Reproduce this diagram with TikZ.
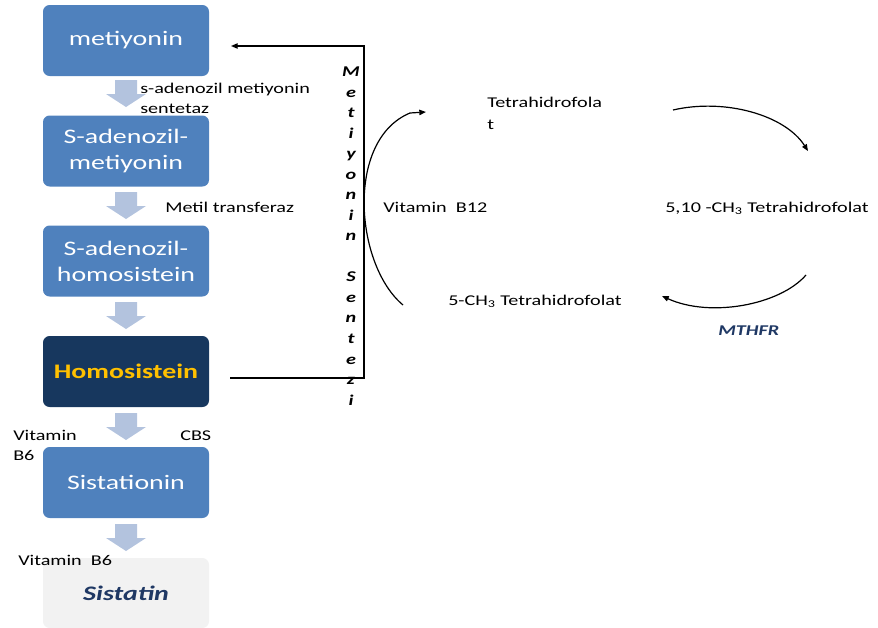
\documentclass[tikz,border=0pt]{standalone}
\usepackage{fontspec}
\setmainfont[FakeStretch=1.35]{Carlito}
\usetikzlibrary{arrows.meta,calc}
\definecolor{boxblue}{HTML}{4F81BD}
\definecolor{navy}{HTML}{17375E}
\definecolor{gold}{HTML}{FFC000}
\definecolor{palegray}{HTML}{F2F2F2}
\definecolor{darktext}{HTML}{1F3864}
\definecolor{chevfill}{HTML}{B3C3DE}
\tikzset{
  pbox/.style={rounded corners=5pt, minimum width=124.5pt, minimum height=53.25pt, inner sep=0pt, align=center, font=\fontsize{15.5}{19.5}\selectfont},
  bluebox/.style={pbox, fill=boxblue, text=white},
  lbl/.style={anchor=base west, inner sep=0pt, font=\fontsize{11.2}{14}\selectfont},
  conn/.style={line width=0.9pt, -{Triangle[length=5pt,width=4pt]}},
  chev/.pic={\fill[chevfill] (-11,0) -- (11,0) -- (11,14) -- (20,14) -- (0,27) -- (-20,14) -- (-11,14) -- cycle;}
}
\begin{document}
\begin{tikzpicture}[x=0.75pt,y=-0.75pt]
\useasboundingbox (0,0) rectangle (878,628);
% boxes
\node[bluebox] (met) at (126,40.5) {metiyonin};
\node[bluebox] (sam) at (126,151) {S-adenozil-\\metiyonin};
\node[bluebox] (sah) at (126,261) {S-adenozil-\\homosistein};
\node[pbox, fill=navy, text=gold, font=\fontsize{15.5}{19.5}\selectfont\bfseries] (homo) at (126,371.5) {Homosistein};
\node[bluebox] (sist) at (126,482.5) {Sistationin};
\node[pbox, fill=palegray, text=darktext, font=\fontsize{15.5}{19.5}\selectfont\bfseries\itshape, minimum height=52.5pt] (sistatin) at (126,593) {Sistatin};
% chevrons
\pic at (126,80) {chev};
\pic at (126,192) {chev};
\pic at (126,302) {chev};
\pic at (126,413) {chev};
\pic at (126,524) {chev};
% labels left
\node[lbl] (l1) at (140,93) {s-adenozil metiyonin};
\node[lbl] (l2) at (140,113) {sentetaz};
\node[lbl] (l3) at (165,212) {Metil transferaz};
\node[lbl] (l4) at (13,440) {Vitamin};
\node[lbl] (l5) at (13,460) {B6};
\node[lbl] (l6) at (180,440) {CBS};
\node[lbl] (l7) at (18,565) {Vitamin\ \ B6};
% methionine synthase loop
\coordinate (hs) at (230,378);
\coordinate (c1) at (364,378);
\coordinate (c2) at (364,46);
\coordinate (mt) at (231,46);
\draw[conn] (hs) -- (c1) -- (c2) -- (mt);
\node[inner sep=0pt, align=center, font=\fontsize{11.2}{15.4}\selectfont\bfseries\itshape] (ms) at (351,236) {M\\e\\t\\i\\y\\o\\n\\i\\n\\[0pt] \\S\\e\\n\\t\\e\\z\\i};
% folate cycle
\coordinate (b12s) at (403,305);
\coordinate (b12m) at (410,113);
\coordinate (thf) at (426,112);
\draw[line width=0.9pt] (b12s) .. controls (355,265) and (345,140) .. (b12m);
\draw[conn] (b12m) -- (thf);
\node[lbl] (t1) at (487,107) {Tetrahidrofola};
\node[lbl] (t2) at (487,129) {t};
\node[lbl] (vb12) at (383,212) {Vitamin\ \ B12};
\node[lbl] (ch3) at (448,305) {5-CH\textsubscript{3} Tetrahidrofolat};
\node[lbl] (mch) at (665,212) {5,10 -CH\textsubscript{3} Tetrahidrofolat};
\node[lbl, font=\fontsize{11.2}{14}\selectfont\bfseries\itshape, text=darktext] (mthfr) at (718,335) {MTHFR};
\coordinate (a1s) at (673,110);
\coordinate (a1e) at (808,151);
\draw[conn] (a1s) .. controls (725,98) and (785,115) .. (a1e);
\coordinate (a2s) at (806,275);
\coordinate (a2e) at (662,296);
\draw[conn] (a2s) .. controls (780,305) and (710,318) .. (a2e);
\end{tikzpicture}
\end{document}
